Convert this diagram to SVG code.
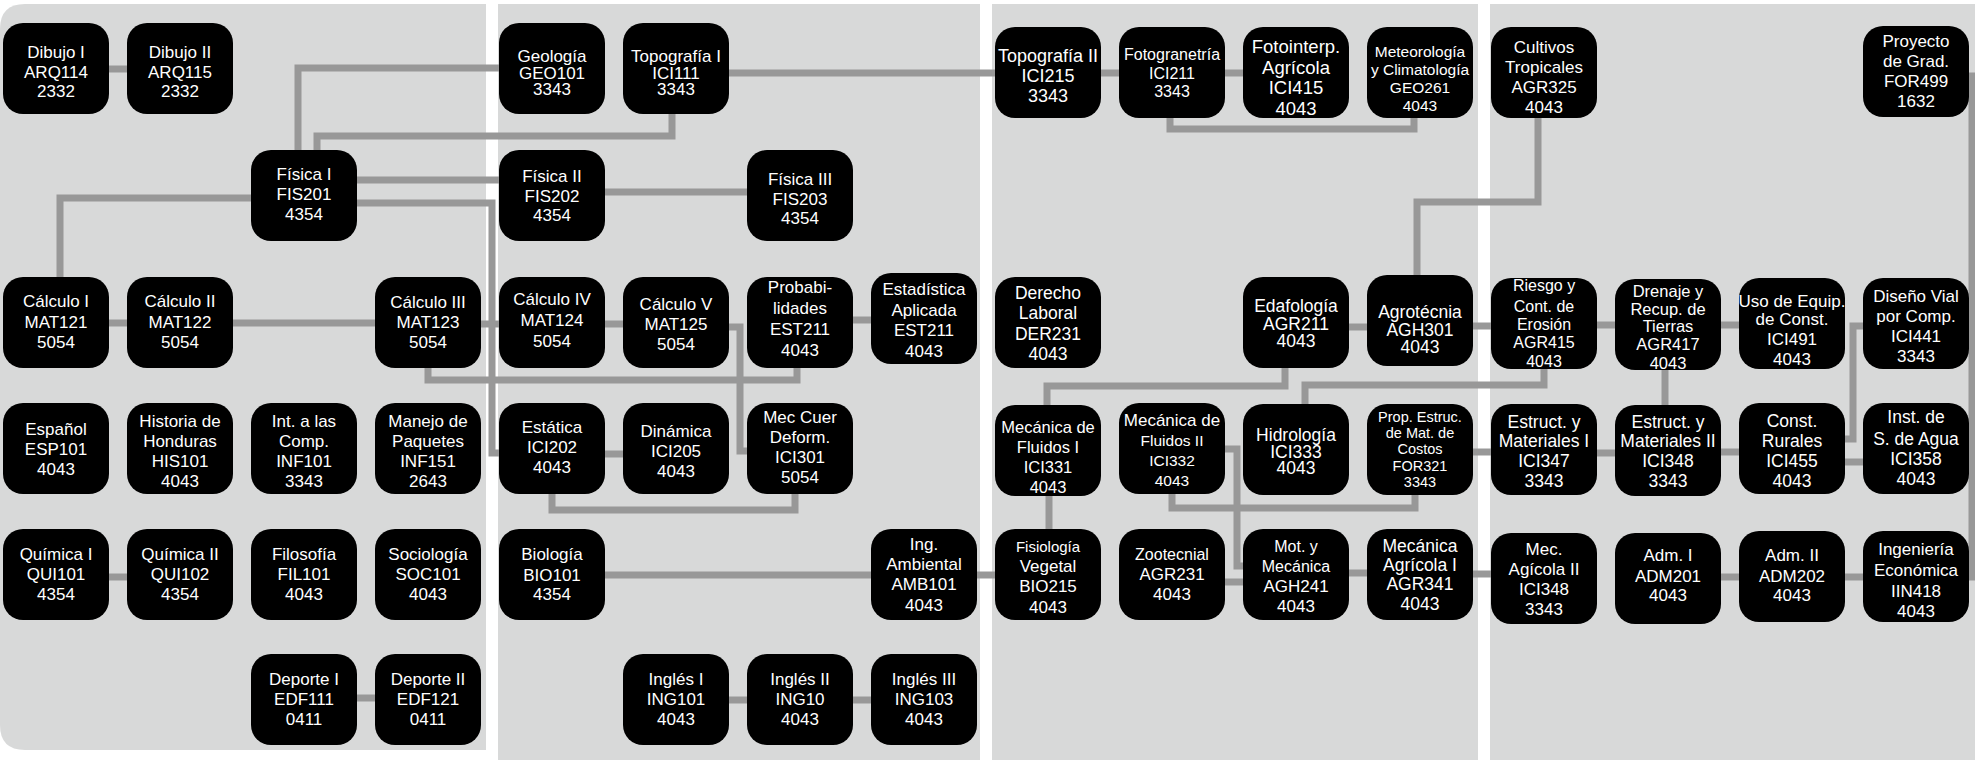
<svg xmlns="http://www.w3.org/2000/svg" width="1975" height="760" viewBox="0 0 1975 760">
<style>
.bg{fill:#d8d9d9}
.n rect{fill:#000}
.n text{fill:#fff;font-family:"Liberation Sans",Arial,sans-serif;font-size:17px;text-anchor:middle}
#conn path{fill:none;stroke:#989898;stroke-width:7;stroke-linejoin:miter;stroke-linecap:butt}
</style>
<rect width="1975" height="760" fill="#fff"/>
<g id="panels">
<path class="bg" d="M25 4 H486 V750 H25 Q0 750 0 725 V29 Q0 4 25 4 Z"/>
<rect class="bg" x="498" y="4" width="482" height="756"/>
<rect class="bg" x="992" y="4" width="486" height="756"/>
<rect class="bg" x="1490" y="4" width="485" height="756"/>
</g>
<g id="conn">
<path d="M109 69 H127"/>
<path d="M499 68 H298 V150"/>
<path d="M672 114 V136 H317 V150"/>
<path d="M357 180 H499"/>
<path d="M605 192 H747"/>
<path d="M251 198 H60 V277"/>
<path d="M357 203 H492 V453 H499"/>
<path d="M109 323 H127"/>
<path d="M233 323 H375"/>
<path d="M481 324 H499"/>
<path d="M605 324 H623"/>
<path d="M428 368 V380 H797 V368"/>
<path d="M729 327 H740 V451 H747"/>
<path d="M853 320 H871"/>
<path d="M605 454 H623"/>
<path d="M552 494 V510 H795 V494"/>
<path d="M109 577 H127"/>
<path d="M357 698 H375"/>
<path d="M605 575 H871"/>
<path d="M977 575 H995"/>
<path d="M729 700 H747"/>
<path d="M853 700 H871"/>
<path d="M729 73 H995"/>
<path d="M1101 73 H1119"/>
<path d="M1225 73 H1243"/>
<path d="M1170 118 V129 H1414 V118"/>
<path d="M1538 118 V202 H1417 V275"/>
<path d="M1349 327 H1367"/>
<path d="M1473 326 H1491"/>
<path d="M1597 325 H1615"/>
<path d="M1721 325 H1739"/>
<path d="M1665 370 V405"/>
<path d="M1285 368 V386 H1047 V405"/>
<path d="M1544 369 V385 H1305 V404"/>
<path d="M1049 496 V529"/>
<path d="M1225 449 H1237 V566 H1243"/>
<path d="M1225 582 H1243"/>
<path d="M1172 494 V508 H1415 V495"/>
<path d="M1473 452 H1491"/>
<path d="M1597 453 H1615"/>
<path d="M1721 452 H1739"/>
<path d="M1845 439 H1853 V326 H1863"/>
<path d="M1845 462 H1863"/>
<path d="M1349 573 H1367"/>
<path d="M1473 574 H1491"/>
<path d="M1721 577 H1739"/>
<path d="M1845 577 H1863"/>
<path d="M1969 76 H1972 V577 H1969"/>
<path d="M1969 325 H1972"/>
<path d="M1969 452 H1972"/>
</g>
<g id="n-arq114" class="n"><rect x="3" y="23" width="106" height="91" rx="20"/><text><tspan x="56" y="58">Dibujo I</tspan><tspan x="56" y="77.5">ARQ114</tspan><tspan x="56" y="97">2332</tspan></text></g>
<g id="n-arq115" class="n"><rect x="127" y="23" width="106" height="91" rx="20"/><text><tspan x="180" y="58">Dibujo II</tspan><tspan x="180" y="77.5">ARQ115</tspan><tspan x="180" y="97">2332</tspan></text></g>
<g id="n-fis201" class="n"><rect x="251" y="150" width="106" height="91" rx="20"/><text><tspan x="304" y="180">Física I</tspan><tspan x="304" y="200">FIS201</tspan><tspan x="304" y="220">4354</tspan></text></g>
<g id="n-mat121" class="n"><rect x="3" y="277" width="106" height="91" rx="20"/><text><tspan x="56" y="307">Cálculo I</tspan><tspan x="56" y="327.5">MAT121</tspan><tspan x="56" y="348">5054</tspan></text></g>
<g id="n-mat122" class="n"><rect x="127" y="277" width="106" height="91" rx="20"/><text><tspan x="180" y="307">Cálculo II</tspan><tspan x="180" y="327.5">MAT122</tspan><tspan x="180" y="348">5054</tspan></text></g>
<g id="n-mat123" class="n"><rect x="375" y="277" width="106" height="91" rx="20"/><text><tspan x="428" y="308">Cálculo III</tspan><tspan x="428" y="328">MAT123</tspan><tspan x="428" y="348">5054</tspan></text></g>
<g id="n-esp101" class="n"><rect x="3" y="403" width="106" height="91" rx="20"/><text><tspan x="56" y="435">Español</tspan><tspan x="56" y="455">ESP101</tspan><tspan x="56" y="475">4043</tspan></text></g>
<g id="n-his101" class="n"><rect x="127" y="403" width="106" height="91" rx="20"/><text><tspan x="180" y="427">Historia de</tspan><tspan x="180" y="447">Honduras</tspan><tspan x="180" y="467">HIS101</tspan><tspan x="180" y="487">4043</tspan></text></g>
<g id="n-inf101" class="n"><rect x="251" y="403" width="106" height="91" rx="20"/><text><tspan x="304" y="427">Int. a las</tspan><tspan x="304" y="447">Comp.</tspan><tspan x="304" y="467">INF101</tspan><tspan x="304" y="487">3343</tspan></text></g>
<g id="n-inf151" class="n"><rect x="375" y="403" width="106" height="91" rx="20"/><text><tspan x="428" y="427">Manejo de</tspan><tspan x="428" y="447">Paquetes</tspan><tspan x="428" y="467">INF151</tspan><tspan x="428" y="487">2643</tspan></text></g>
<g id="n-qui101" class="n"><rect x="3" y="529" width="106" height="91" rx="20"/><text><tspan x="56" y="560">Química I</tspan><tspan x="56" y="580">QUI101</tspan><tspan x="56" y="600">4354</tspan></text></g>
<g id="n-qui102" class="n"><rect x="127" y="529" width="106" height="91" rx="20"/><text><tspan x="180" y="560">Química II</tspan><tspan x="180" y="580">QUI102</tspan><tspan x="180" y="600">4354</tspan></text></g>
<g id="n-fil101" class="n"><rect x="251" y="529" width="106" height="91" rx="20"/><text><tspan x="304" y="560">Filosofía</tspan><tspan x="304" y="580">FIL101</tspan><tspan x="304" y="600">4043</tspan></text></g>
<g id="n-soc101" class="n"><rect x="375" y="529" width="106" height="91" rx="20"/><text><tspan x="428" y="560">Sociología</tspan><tspan x="428" y="580">SOC101</tspan><tspan x="428" y="600">4043</tspan></text></g>
<g id="n-edf111" class="n"><rect x="251" y="654" width="106" height="91" rx="20"/><text><tspan x="304" y="685">Deporte I</tspan><tspan x="304" y="705">EDF111</tspan><tspan x="304" y="725">0411</tspan></text></g>
<g id="n-edf121" class="n"><rect x="375" y="654" width="106" height="91" rx="20"/><text><tspan x="428" y="685">Deporte II</tspan><tspan x="428" y="705">EDF121</tspan><tspan x="428" y="725">0411</tspan></text></g>
<g id="n-geo101" class="n"><rect x="499" y="23" width="106" height="91" rx="20"/><text><tspan x="552" y="62">Geología</tspan><tspan x="552" y="78.5">GEO101</tspan><tspan x="552" y="95">3343</tspan></text></g>
<g id="n-ici111" class="n"><rect x="623" y="23" width="106" height="91" rx="20"/><text><tspan x="676" y="62">Topografía I</tspan><tspan x="676" y="78.5">ICI111</tspan><tspan x="676" y="95">3343</tspan></text></g>
<g id="n-fis202" class="n"><rect x="499" y="150" width="106" height="91" rx="20"/><text><tspan x="552" y="182">Física II</tspan><tspan x="552" y="202">FIS202</tspan><tspan x="552" y="221">4354</tspan></text></g>
<g id="n-fis203" class="n"><rect x="747" y="150" width="106" height="91" rx="20"/><text><tspan x="800" y="185">Física III</tspan><tspan x="800" y="204.5">FIS203</tspan><tspan x="800" y="224">4354</tspan></text></g>
<g id="n-mat124" class="n"><rect x="499" y="277" width="106" height="91" rx="20"/><text><tspan x="552" y="305">Cálculo IV</tspan><tspan x="552" y="326">MAT124</tspan><tspan x="552" y="347">5054</tspan></text></g>
<g id="n-mat125" class="n"><rect x="623" y="277" width="106" height="91" rx="20"/><text><tspan x="676" y="310">Cálculo V</tspan><tspan x="676" y="330">MAT125</tspan><tspan x="676" y="350">5054</tspan></text></g>
<g id="n-est211a" class="n"><rect x="747" y="277" width="106" height="91" rx="20"/><text><tspan x="800" y="293">Probabi-</tspan><tspan x="800" y="314">lidades</tspan><tspan x="800" y="335">EST211</tspan><tspan x="800" y="356">4043</tspan></text></g>
<g id="n-est211b" class="n"><rect x="871" y="273" width="106" height="91" rx="20"/><text><tspan x="924" y="295">Estadística</tspan><tspan x="924" y="315.5">Aplicada</tspan><tspan x="924" y="336">EST211</tspan><tspan x="924" y="356.5">4043</tspan></text></g>
<g id="n-ici202" class="n"><rect x="499" y="403" width="106" height="91" rx="20"/><text><tspan x="552" y="433">Estática</tspan><tspan x="552" y="453">ICI202</tspan><tspan x="552" y="473">4043</tspan></text></g>
<g id="n-ici205" class="n"><rect x="623" y="403" width="106" height="91" rx="20"/><text><tspan x="676" y="437">Dinámica</tspan><tspan x="676" y="457">ICI205</tspan><tspan x="676" y="477">4043</tspan></text></g>
<g id="n-ici301" class="n"><rect x="747" y="403" width="106" height="91" rx="20"/><text><tspan x="800" y="423">Mec Cuer</tspan><tspan x="800" y="443">Deform.</tspan><tspan x="800" y="463">ICI301</tspan><tspan x="800" y="483">5054</tspan></text></g>
<g id="n-bio101" class="n"><rect x="499" y="529" width="106" height="91" rx="20"/><text><tspan x="552" y="560">Biología</tspan><tspan x="552" y="581">BIO101</tspan><tspan x="552" y="600">4354</tspan></text></g>
<g id="n-amb101" class="n"><rect x="871" y="529" width="106" height="91" rx="20"/><text><tspan x="924" y="550">Ing.</tspan><tspan x="924" y="570">Ambiental</tspan><tspan x="924" y="590">AMB101</tspan><tspan x="924" y="611">4043</tspan></text></g>
<g id="n-ing101" class="n"><rect x="623" y="654" width="106" height="91" rx="20"/><text><tspan x="676" y="685">Inglés I</tspan><tspan x="676" y="705">ING101</tspan><tspan x="676" y="725">4043</tspan></text></g>
<g id="n-ing10" class="n"><rect x="747" y="654" width="106" height="91" rx="20"/><text><tspan x="800" y="685">Inglés II</tspan><tspan x="800" y="705">ING10</tspan><tspan x="800" y="725">4043</tspan></text></g>
<g id="n-ing103" class="n"><rect x="871" y="654" width="106" height="91" rx="20"/><text><tspan x="924" y="685">Inglés III</tspan><tspan x="924" y="705">ING103</tspan><tspan x="924" y="725">4043</tspan></text></g>
<g id="n-ici215" class="n"><rect x="995" y="27" width="106" height="91" rx="20"/><text style="font-size:18px"><tspan x="1048" y="62">Topografía II</tspan><tspan x="1048" y="82">ICI215</tspan><tspan x="1048" y="102">3343</tspan></text></g>
<g id="n-ici211" class="n"><rect x="1119" y="27" width="106" height="91" rx="20"/><text style="font-size:16px"><tspan x="1172" y="60">Fotogranetría</tspan><tspan x="1172" y="78.5">ICI211</tspan><tspan x="1172" y="97">3343</tspan></text></g>
<g id="n-ici415" class="n"><rect x="1243" y="27" width="106" height="91" rx="20"/><text style="font-size:18.5px"><tspan x="1296" y="53">Fotointerp.</tspan><tspan x="1296" y="73.5">Agrícola</tspan><tspan x="1296" y="94">ICI415</tspan><tspan x="1296" y="115">4043</tspan></text></g>
<g id="n-geo261" class="n"><rect x="1367" y="27" width="106" height="91" rx="20"/><text style="font-size:15.5px"><tspan x="1420" y="57">Meteorología</tspan><tspan x="1420" y="75">y Climatología</tspan><tspan x="1420" y="93">GEO261</tspan><tspan x="1420" y="111">4043</tspan></text></g>
<g id="n-der231" class="n"><rect x="995" y="277" width="106" height="91" rx="20"/><text style="font-size:17.5px"><tspan x="1048" y="299">Derecho</tspan><tspan x="1048" y="319">Laboral</tspan><tspan x="1048" y="340">DER231</tspan><tspan x="1048" y="360">4043</tspan></text></g>
<g id="n-agr211" class="n"><rect x="1243" y="277" width="106" height="91" rx="20"/><text style="font-size:17.5px"><tspan x="1296" y="312">Edafología</tspan><tspan x="1296" y="330">AGR211</tspan><tspan x="1296" y="347">4043</tspan></text></g>
<g id="n-agh301" class="n"><rect x="1367" y="275" width="106" height="91" rx="20"/><text style="font-size:17.5px"><tspan x="1420" y="318">Agrotécnia</tspan><tspan x="1420" y="336">AGH301</tspan><tspan x="1420" y="353">4043</tspan></text></g>
<g id="n-ici331" class="n"><rect x="995" y="405" width="106" height="91" rx="20"/><text style="font-size:16.5px"><tspan x="1048" y="433">Mecánica de</tspan><tspan x="1048" y="453">Fluidos I</tspan><tspan x="1048" y="473">ICI331</tspan><tspan x="1048" y="493">4043</tspan></text></g>
<g id="n-ici332" class="n"><rect x="1119" y="403" width="106" height="91" rx="20"/><text style="font-size:15.5px"><tspan x="1172" y="426" style="font-size:17px">Mecánica de</tspan><tspan x="1172" y="446">Fluidos II</tspan><tspan x="1172" y="466">ICI332</tspan><tspan x="1172" y="486">4043</tspan></text></g>
<g id="n-ici333" class="n"><rect x="1243" y="404" width="106" height="91" rx="20"/><text style="font-size:17.5px"><tspan x="1296" y="441">Hidrología</tspan><tspan x="1296" y="457.5">ICI333</tspan><tspan x="1296" y="474">4043</tspan></text></g>
<g id="n-for321" class="n"><rect x="1367" y="404" width="106" height="91" rx="20"/><text style="font-size:14.5px"><tspan x="1420" y="422">Prop. Estruc.</tspan><tspan x="1420" y="438">de Mat. de</tspan><tspan x="1420" y="454">Costos</tspan><tspan x="1420" y="470.5">FOR321</tspan><tspan x="1420" y="487">3343</tspan></text></g>
<g id="n-bio215" class="n"><rect x="995" y="529" width="106" height="91" rx="20"/><text><tspan x="1048" y="552" style="font-size:15px">Fisiología</tspan><tspan x="1048" y="572">Vegetal</tspan><tspan x="1048" y="592">BIO215</tspan><tspan x="1048" y="613">4043</tspan></text></g>
<g id="n-agr231" class="n"><rect x="1119" y="529" width="106" height="91" rx="20"/><text><tspan x="1172" y="560" style="font-size:16px">Zootecnial</tspan><tspan x="1172" y="580">AGR231</tspan><tspan x="1172" y="600">4043</tspan></text></g>
<g id="n-agh241" class="n"><rect x="1243" y="529" width="106" height="91" rx="20"/><text><tspan x="1296" y="552" style="font-size:16px">Mot. y</tspan><tspan x="1296" y="572" style="font-size:16px">Mecánica</tspan><tspan x="1296" y="592">AGH241</tspan><tspan x="1296" y="612">4043</tspan></text></g>
<g id="n-agr341" class="n"><rect x="1367" y="529" width="106" height="91" rx="20"/><text style="font-size:17.5px"><tspan x="1420" y="552">Mecánica</tspan><tspan x="1420" y="571">Agrícola I</tspan><tspan x="1420" y="590">AGR341</tspan><tspan x="1420" y="610">4043</tspan></text></g>
<g id="n-agr325" class="n"><rect x="1491" y="27" width="106" height="91" rx="20"/><text><tspan x="1544" y="53">Cultivos</tspan><tspan x="1544" y="73">Tropicales</tspan><tspan x="1544" y="93">AGR325</tspan><tspan x="1544" y="113">4043</tspan></text></g>
<g id="n-for499" class="n"><rect x="1863" y="26" width="106" height="91" rx="20"/><text><tspan x="1916" y="47">Proyecto</tspan><tspan x="1916" y="67">de Grad.</tspan><tspan x="1916" y="87">FOR499</tspan><tspan x="1916" y="107">1632</tspan></text></g>
<g id="n-agr415" class="n"><rect x="1491" y="278" width="106" height="91" rx="20"/><text style="font-size:16px"><tspan x="1544" y="291">Riesgo y</tspan><tspan x="1544" y="311.5">Cont. de</tspan><tspan x="1544" y="330">Erosión</tspan><tspan x="1544" y="348">AGR415</tspan><tspan x="1544" y="367">4043</tspan></text></g>
<g id="n-agr417" class="n"><rect x="1615" y="279" width="106" height="91" rx="20"/><text style="font-size:16.5px"><tspan x="1668" y="297">Drenaje y</tspan><tspan x="1668" y="315">Recup. de</tspan><tspan x="1668" y="332">Tierras</tspan><tspan x="1668" y="350">AGR417</tspan><tspan x="1668" y="369">4043</tspan></text></g>
<g id="n-ici491" class="n"><rect x="1739" y="278" width="106" height="91" rx="20"/><text><tspan x="1792" y="307">Uso de Equip.</tspan><tspan x="1792" y="325">de Const.</tspan><tspan x="1792" y="345">ICI491</tspan><tspan x="1792" y="365">4043</tspan></text></g>
<g id="n-ici441" class="n"><rect x="1863" y="278" width="106" height="91" rx="20"/><text><tspan x="1916" y="302">Diseño Vial</tspan><tspan x="1916" y="322">por Comp.</tspan><tspan x="1916" y="342">ICI441</tspan><tspan x="1916" y="362">3343</tspan></text></g>
<g id="n-ici347" class="n"><rect x="1491" y="404" width="106" height="91" rx="20"/><text style="font-size:17.5px"><tspan x="1544" y="428">Estruct. y</tspan><tspan x="1544" y="447">Materiales I</tspan><tspan x="1544" y="467">ICI347</tspan><tspan x="1544" y="487">3343</tspan></text></g>
<g id="n-ici348a" class="n"><rect x="1615" y="405" width="106" height="91" rx="20"/><text style="font-size:17.5px"><tspan x="1668" y="428">Estruct. y</tspan><tspan x="1668" y="447">Materiales II</tspan><tspan x="1668" y="467">ICI348</tspan><tspan x="1668" y="487">3343</tspan></text></g>
<g id="n-ici455" class="n"><rect x="1739" y="403" width="106" height="91" rx="20"/><text style="font-size:17.5px"><tspan x="1792" y="427">Const.</tspan><tspan x="1792" y="447">Rurales</tspan><tspan x="1792" y="467">ICI455</tspan><tspan x="1792" y="487">4043</tspan></text></g>
<g id="n-ici358" class="n"><rect x="1863" y="403" width="106" height="91" rx="20"/><text style="font-size:17.5px"><tspan x="1916" y="423">Inst. de</tspan><tspan x="1916" y="445">S. de Agua</tspan><tspan x="1916" y="465">ICI358</tspan><tspan x="1916" y="485">4043</tspan></text></g>
<g id="n-ici348b" class="n"><rect x="1491" y="533" width="106" height="91" rx="20"/><text><tspan x="1544" y="555">Mec.</tspan><tspan x="1544" y="575">Agícola II</tspan><tspan x="1544" y="595">ICI348</tspan><tspan x="1544" y="615">3343</tspan></text></g>
<g id="n-adm201" class="n"><rect x="1615" y="533" width="106" height="91" rx="20"/><text><tspan x="1668" y="561">Adm. I</tspan><tspan x="1668" y="582">ADM201</tspan><tspan x="1668" y="601">4043</tspan></text></g>
<g id="n-adm202" class="n"><rect x="1739" y="531" width="106" height="91" rx="20"/><text><tspan x="1792" y="561">Adm. II</tspan><tspan x="1792" y="582">ADM202</tspan><tspan x="1792" y="601">4043</tspan></text></g>
<g id="n-iin418" class="n"><rect x="1863" y="531" width="106" height="91" rx="20"/><text><tspan x="1916" y="555">Ingeniería</tspan><tspan x="1916" y="576">Económica</tspan><tspan x="1916" y="597">IIN418</tspan><tspan x="1916" y="617">4043</tspan></text></g>
</svg>
